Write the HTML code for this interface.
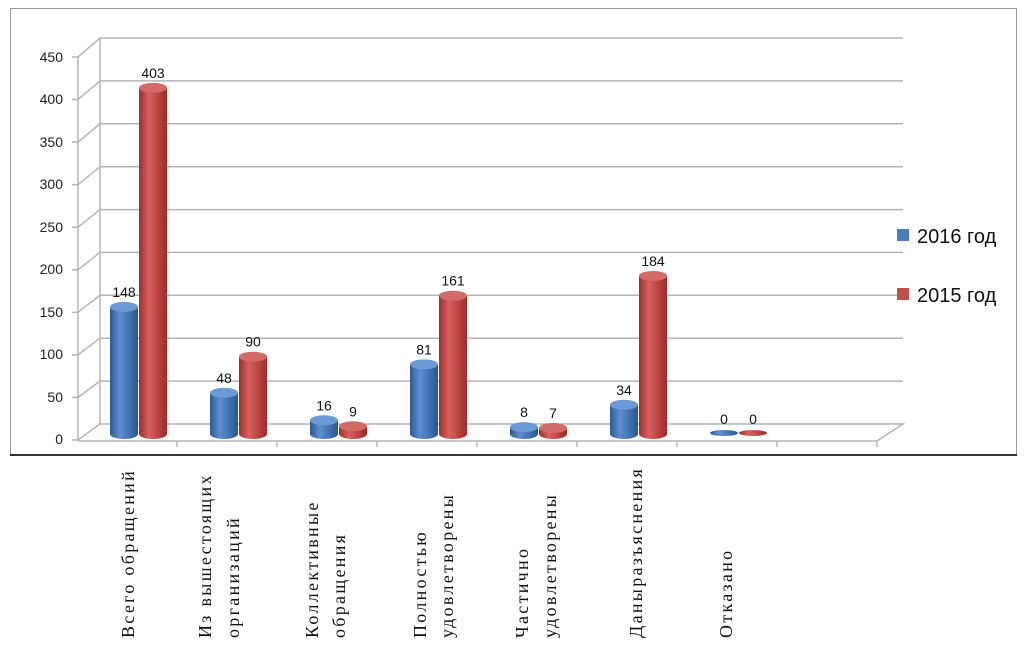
<!DOCTYPE html>
<html><head><meta charset="utf-8"><style>
html,body{margin:0;padding:0;background:#fff;width:1024px;height:648px;overflow:hidden}
</style></head><body>
<svg width="1024" height="648" viewBox="0 0 1024 648" xmlns="http://www.w3.org/2000/svg" font-family="Liberation Sans, Arial, sans-serif">
<defs>
<linearGradient id="gb" x1="0" x2="1" y1="0" y2="0">
<stop offset="0" stop-color="#2c5a94"/><stop offset="0.35" stop-color="#5b8fd0"/><stop offset="1" stop-color="#2a5690"/></linearGradient>
<linearGradient id="gr" x1="0" x2="1" y1="0" y2="0">
<stop offset="0" stop-color="#9c2e2b"/><stop offset="0.35" stop-color="#d9605c"/><stop offset="1" stop-color="#9a2c29"/></linearGradient>
</defs>
<rect x="10.5" y="8.5" width="1006" height="446" fill="#fff" stroke="#999"/>
<line x1="10" y1="455" x2="1017" y2="455" stroke="#333" stroke-width="2"/>
<g stroke="#b5b5b5" stroke-width="1.5" fill="none">
<line x1="100" y1="38" x2="100" y2="424"/>
<line x1="78" y1="57" x2="78" y2="440"/>
<polyline points="78,57 100,38 903,38"/>
<polyline points="78,99.6 100,80.9 903,80.9"/>
<polyline points="78,142.1 100,123.8 903,123.8"/>
<polyline points="78,184.7 100,166.7 903,166.7"/>
<polyline points="78,227.2 100,209.6 903,209.6"/>
<polyline points="78,269.8 100,252.4 903,252.4"/>
<polyline points="78,312.3 100,295.3 903,295.3"/>
<polyline points="78,354.9 100,338.2 903,338.2"/>
<polyline points="78,397.4 100,381.1 903,381.1"/>
<polyline points="78,440 100,424 903,424 877,441 78,441"/>
<line x1="72" y1="57" x2="78" y2="57"/><line x1="72" y1="99.6" x2="78" y2="99.6"/><line x1="72" y1="142.1" x2="78" y2="142.1"/><line x1="72" y1="184.7" x2="78" y2="184.7"/><line x1="72" y1="227.2" x2="78" y2="227.2"/><line x1="72" y1="269.8" x2="78" y2="269.8"/><line x1="72" y1="312.3" x2="78" y2="312.3"/><line x1="72" y1="354.9" x2="78" y2="354.9"/><line x1="72" y1="397.4" x2="78" y2="397.4"/><line x1="72" y1="440" x2="78" y2="440"/>
<line x1="177" y1="441" x2="177" y2="447"/><line x1="277" y1="441" x2="277" y2="447"/><line x1="377" y1="441" x2="377" y2="447"/><line x1="477" y1="441" x2="477" y2="447"/><line x1="577" y1="441" x2="577" y2="447"/><line x1="677" y1="441" x2="677" y2="447"/><line x1="777" y1="441" x2="777" y2="447"/><line x1="877" y1="441" x2="877" y2="447"/>
</g>
<g font-size="14" fill="#222" text-anchor="end">
<text x="63" y="62">450</text><text x="63" y="104">400</text><text x="63" y="147">350</text><text x="63" y="189">300</text><text x="63" y="232">250</text><text x="63" y="274">200</text><text x="63" y="317">150</text><text x="63" y="359">100</text><text x="63" y="402">50</text><text x="63" y="444">0</text>
</g>
<g id="bars"></g>
<g font-size="14" fill="#111" text-anchor="middle" id="vals"></g>
<rect x="897" y="229" width="12" height="12" fill="#4a7ebb"/>
<text x="917" y="243" font-size="20" fill="#111">2016 год</text>
<rect x="897" y="288" width="12" height="12" fill="#c0504d"/>
<text x="917" y="302" font-size="20" fill="#111">2015 год</text>
<g font-family="Liberation Serif, Times New Roman, serif" font-size="18" letter-spacing="2.3" fill="#111">
<text transform="translate(134,638) rotate(-90)">Всего обращений</text>
<text transform="translate(211,638) rotate(-90)">Из вышестоящих</text>
<text transform="translate(239,638) rotate(-90)">организаций</text>
<text transform="translate(318,638) rotate(-90)">Коллективные</text>
<text transform="translate(345,638) rotate(-90)">обращения</text>
<text transform="translate(426,638) rotate(-90)">Полностью</text>
<text transform="translate(453,638) rotate(-90)">удовлетворены</text>
<text transform="translate(528,638) rotate(-90)">Частично</text>
<text transform="translate(556,638) rotate(-90)">удовлетворены</text>
<text transform="translate(642,638) rotate(-90)">Даныразъяснения</text>
<text transform="translate(732,638) rotate(-90)">Отказано</text>
</g>
</svg>
<script>
var d=[[148,403],[48,90],[16,9],[81,161],[8,7],[34,184],[0,0]];
var ns="http://www.w3.org/2000/svg",b=document.getElementById("bars"),v=document.getElementById("vals");
function el(t,a,p){var e=document.createElementNS(ns,t);for(var k in a)e.setAttribute(k,a[k]);p.appendChild(e);return e;}
var base=434,k=0.859;
d.forEach(function(p,i){
 [0,1].forEach(function(s){
  var cx=124+100*i+29*s,val=p[s],top=base-val*k,w=14,ry=5;
  var g=s?"url(#gr)":"url(#gb)",tc=s?"#d26a67":"#6b9ad6";
  if(val>0){
   el("path",{d:"M"+(cx-w)+","+top+" L"+(cx-w)+","+base+" A"+w+","+ry+" 0 0 0 "+(cx+w)+","+base+" L"+(cx+w)+","+top+" Z",fill:g},b);
   el("ellipse",{cx:cx,cy:top,rx:w,ry:ry,fill:tc},b);
  } else {
   el("ellipse",{cx:cx,cy:base-1,rx:w,ry:3,fill:g},b);
  }
  var t=el("text",{x:cx,y:top-10},v);t.textContent=val;
 });
});
</script>
</body></html>
